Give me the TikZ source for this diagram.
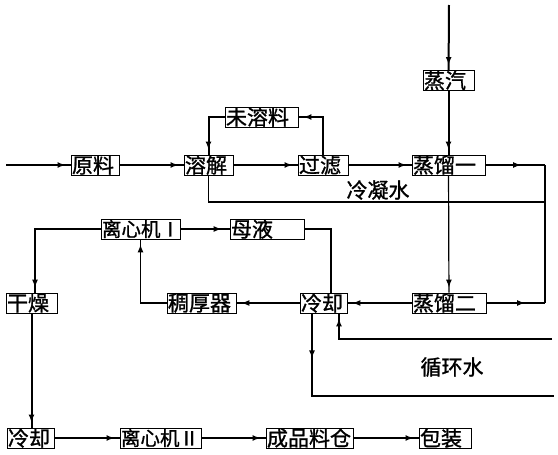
\documentclass[tikz,border=0pt]{standalone}
\usepackage{fontspec}
\newfontfamily\cjk[FakeBold=1.2]{Noto Sans CJK SC}
\usetikzlibrary{arrows.meta,decorations.markings}

\begin{document}
\begin{tikzpicture}[x=1pt,y=-1pt,
  box/.style={draw,line width=0.9pt,minimum height=20pt,inner xsep=1pt,inner ysep=0pt,align=left,font=\cjk\fontsize{21}{21}\selectfont},
  lbl/.style={font=\cjk\fontsize{21}{21}\selectfont},
  tip/.style={postaction={decorate},decoration={markings,mark=at position #1 with {\arrow{Latex[length=8pt,width=6pt]}}}},
  tip/.default=-5pt,
  heavy/.style={line width=2pt},
  light/.style={line width=1.2pt}]
\useasboundingbox (0,0) rectangle (558,455);
\node[box,text width=49pt] (steam) at (448.5,80.5) {蒸汽};
\node[box,text width=71pt] (undis) at (261.5,117) {未溶料};
\node[box,text width=46pt] (raw) at (95,165) {原料};
\node[box,text width=47pt] (dissolve) at (208.5,165) {溶解};
\node[box,text width=48pt] (filter) at (323,165) {过滤};
\node[box,text width=71pt] (still1) at (448.5,165) {蒸馏一};
\node[box,text width=77pt,font=\cjk\fontsize{19.5}{19.5}\selectfont] (centri1) at (140.5,229) {离心机Ⅰ};
\node[box,text width=72pt] (mother) at (267,229) {母液};
\node[box,text width=49pt] (dry) at (31.5,303) {干燥};
\node[box,text width=67pt] (thickener) at (201.5,303) {稠厚器};
\node[box,text width=45pt] (cool1) at (323.5,303) {冷却};
\node[box,text width=72pt] (still2) at (449,303) {蒸馏二};
\node[box,text width=45pt] (cool2) at (30.5,438) {冷却};
\node[box,text width=79pt,font=\cjk\fontsize{19.5}{19.5}\selectfont] (centri2) at (160.5,438) {离心机Ⅱ};
\node[box,text width=85pt] (store) at (309.5,438) {成品料仓};
\node[box,text width=50pt] (pack) at (445,438) {包装};
\node[lbl] (cond) at (378,190) {冷凝水};
\node[lbl] (water) at (452,367) {循环水};
\coordinate (feed) at (6,165);
\coordinate (top) at (449,5);
\coordinate (r1) at (545,165);
\coordinate (r2) at (545,303);
\coordinate (r3) at (545,202);
\coordinate (win) at (552,339);
\coordinate (wout) at (554,396);
\draw[heavy,tip] (feed) -- (raw);
\draw[heavy,tip] (raw) -- (dissolve);
\draw[heavy,tip] (dissolve) -- (filter);
\draw[heavy,tip] (filter) -- (still1);
\draw[heavy,tip] (top) -- (steam);
\draw[heavy,tip] (steam) -- (still1);
\draw[light,tip] (still1) -- (still2);
\draw[heavy,tip] (filter.north) |- (undis);
\draw[heavy,tip] (undis) -| (dissolve);
\draw[light,tip=-24pt] (still1) -- (r1);
\draw[light,tip=-20pt] (still2) -- (r2);
\draw[light] (r1) -- (r2);
\draw[light] (dissolve) |- (r3);
\draw[light,tip] (still2) -- (cool1);
\draw[light,tip] (cool1) -- (thickener);
\draw[light,tip] (thickener) -| (centri1);
\draw[light,tip=-8pt] (centri1) -- (mother);
\draw[light] (mother) -| ([xshift=7.5pt]cool1.north);
\draw[light,tip] (centri1) -| ([xshift=3.5pt]dry.north);
\draw[heavy,tip] (dry.south) -- (dry.south |- cool2.north);
\draw[heavy,tip] (cool2) -- (centri2);
\draw[heavy,tip] (centri2) -- (store);
\draw[heavy,tip] (store) -- (pack);
\draw[heavy,tip] (win) -| ([xshift=15.5pt]cool1.south);
\draw[heavy,tip=45pt] ([xshift=-11.5pt]cool1.south) |- (wout);
\end{tikzpicture}
\end{document}
